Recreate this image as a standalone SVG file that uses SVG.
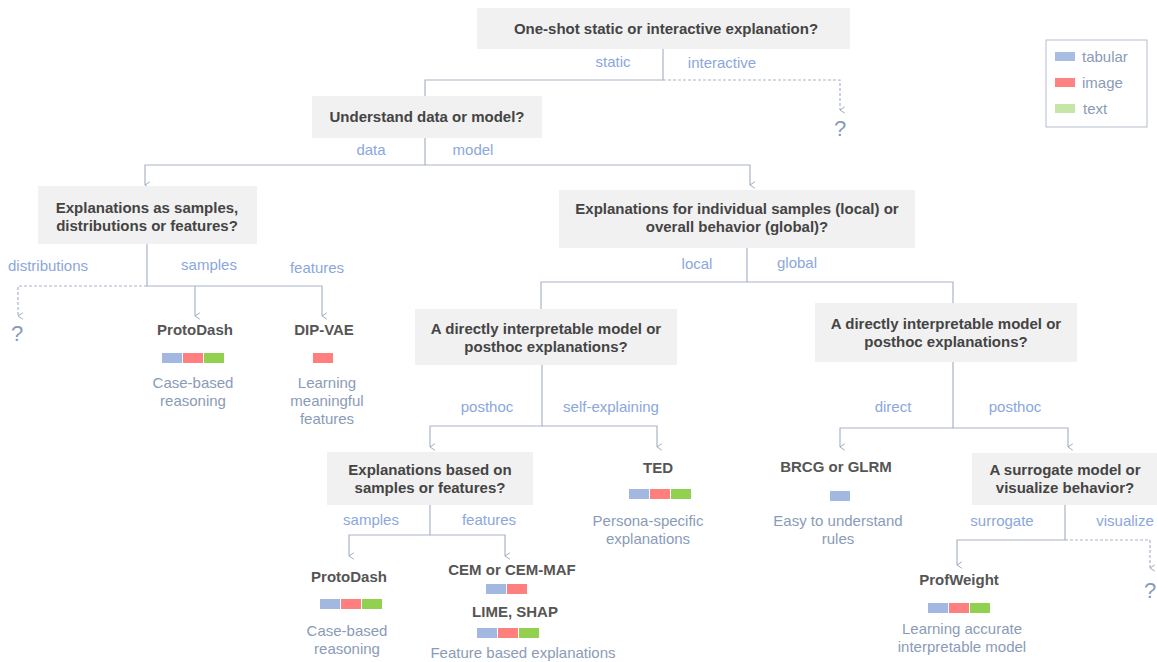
<svg xmlns="http://www.w3.org/2000/svg" width="1157" height="662" viewBox="0 0 1157 662">
<defs>
<marker id="arr" viewBox="0 0 10 10" refX="5" refY="9" markerWidth="8" markerHeight="8" orient="auto-start-reverse" markerUnits="userSpaceOnUse">
<path d="M1,3 L5,9 L9,3" fill="none" stroke="#9aa8c0" stroke-width="1.2"/>
</marker>
<style>
.box{fill:#f1f1f1}
.q{font-family:"Liberation Sans",Arial,sans-serif;font-size:15px;font-weight:bold;fill:#444;text-anchor:middle}
.n{font-family:"Liberation Sans",Arial,sans-serif;font-size:15px;font-weight:bold;fill:#555;text-anchor:middle}
.lbl{font-family:"Liberation Sans",Arial,sans-serif;font-size:15px;fill:#8ba7dc;text-anchor:middle}
.d{font-family:"Liberation Sans",Arial,sans-serif;font-size:15px;fill:#8a9bb8;text-anchor:middle}
.qm{font-family:"Liberation Sans",Arial,sans-serif;font-size:22px;fill:#8a9bb8;text-anchor:middle}
.c{fill:none;stroke:#a9b4c8;stroke-width:1.2}
.dash{fill:none;stroke:#a9b4c8;stroke-width:1.2;stroke-dasharray:3,2}
.tb{fill:#a3b8e0}
.im{fill:#ff7f7f}
.tx{fill:#92d050}
.leg{font-family:"Liberation Sans",Arial,sans-serif;font-size:15px;fill:#8a9bb8}
</style>
</defs>
<rect width="1157" height="662" fill="#fff"/>

<g id="connectors">
<path class="c" d="M663,49 V80 H425 V96"/>
<path class="dash" d="M663,80 H840 V110" marker-end="url(#arr)"/>
<path class="c" d="M425,138 V165 H145 V185" marker-end="url(#arr)"/>
<path class="c" d="M425,165 H750 V185" marker-end="url(#arr)"/>
<path class="c" d="M147,244 V286 H322 V316" marker-end="url(#arr)"/>
<path class="c" d="M195,286 V316" marker-end="url(#arr)"/>
<path class="dash" d="M147,286 H18 V316" marker-end="url(#arr)"/>
<path class="c" d="M747,248 V282 H541 V309"/>
<path class="c" d="M747,282 H953 V303"/>
<path class="c" d="M542,365 V426 H430 V447" marker-end="url(#arr)"/>
<path class="c" d="M542,426 H657 V447" marker-end="url(#arr)"/>
<path class="c" d="M953,362 V428 H840 V447" marker-end="url(#arr)"/>
<path class="c" d="M953,428 H1068 V447" marker-end="url(#arr)"/>
<path class="c" d="M430,505 V535 H349 V556" marker-end="url(#arr)"/>
<path class="c" d="M430,535 H505 V556" marker-end="url(#arr)"/>
<path class="c" d="M1065,505 V540 H957 V565" marker-end="url(#arr)"/>
<path class="dash" d="M1065,540 H1150 V568" marker-end="url(#arr)"/>
</g>

<g id="edge-labels">
<text class="lbl" x="613" y="67">static</text>
<text class="lbl" x="722" y="68">interactive</text>
<text class="lbl" x="371" y="155">data</text>
<text class="lbl" x="473" y="155">model</text>
<text class="lbl" x="48" y="271">distributions</text>
<text class="lbl" x="209" y="270">samples</text>
<text class="lbl" x="317" y="273">features</text>
<text class="lbl" x="697" y="269">local</text>
<text class="lbl" x="797" y="268">global</text>
<text class="lbl" x="487" y="412">posthoc</text>
<text class="lbl" x="611" y="412">self-explaining</text>
<text class="lbl" x="893" y="412">direct</text>
<text class="lbl" x="1015" y="412">posthoc</text>
<text class="lbl" x="371" y="525">samples</text>
<text class="lbl" x="489" y="525">features</text>
<text class="lbl" x="1002" y="526">surrogate</text>
<text class="lbl" x="1125" y="526">visualize</text>
</g>

<g id="q-interactive">
<rect class="box" x="477" y="8" width="373" height="41"/>
<text class="q" x="666" y="34">One-shot static or interactive explanation?</text>
</g>
<g id="unknown-interactive"><text class="qm" x="840" y="136">?</text></g>

<g id="q-data-model">
<rect class="box" x="312" y="96" width="230" height="42"/>
<text class="q" x="427" y="122">Understand data or model?</text>
</g>

<g id="q-samples-dist-feat">
<rect class="box" x="38" y="186" width="219" height="58"/>
<text class="q" x="147" y="213">Explanations as samples,</text>
<text class="q" x="147" y="231">distributions or features?</text>
</g>
<g id="unknown-distributions"><text class="qm" x="17" y="341">?</text></g>

<g id="protodash-data">
<text class="n" x="195" y="335">ProtoDash</text>
<rect class="tb" x="162" y="353" width="20" height="10"/>
<rect class="im" x="183" y="353" width="20" height="10"/>
<rect class="tx" x="204" y="353" width="20" height="10"/>
<text class="d" x="193" y="388">Case-based</text>
<text class="d" x="193" y="406">reasoning</text>
</g>

<g id="dipvae">
<text class="n" x="324" y="335">DIP-VAE</text>
<rect class="im" x="313" y="353" width="20" height="10"/>
<text class="d" x="327" y="388">Learning</text>
<text class="d" x="327" y="406">meaningful</text>
<text class="d" x="327" y="424">features</text>
</g>

<g id="q-local-global">
<rect class="box" x="559" y="190" width="356" height="58"/>
<text class="q" x="737" y="214">Explanations for individual samples (local) or</text>
<text class="q" x="737" y="232">overall behavior (global)?</text>
</g>

<g id="q-direct-posthoc-local">
<rect class="box" x="415" y="309" width="262" height="56"/>
<text class="q" x="546" y="334">A directly interpretable model or</text>
<text class="q" x="546" y="352">posthoc explanations?</text>
</g>

<g id="q-direct-posthoc-global">
<rect class="box" x="815" y="303" width="262" height="59"/>
<text class="q" x="946" y="329">A directly interpretable model or</text>
<text class="q" x="946" y="347">posthoc explanations?</text>
</g>

<g id="q-samples-features">
<rect class="box" x="327" y="452" width="206" height="53"/>
<text class="q" x="430" y="475">Explanations based on</text>
<text class="q" x="430" y="493">samples or features?</text>
</g>

<g id="ted">
<text class="n" x="658" y="473">TED</text>
<rect class="tb" x="629" y="489" width="20" height="10"/>
<rect class="im" x="650" y="489" width="20" height="10"/>
<rect class="tx" x="671" y="489" width="20" height="10"/>
<text class="d" x="648" y="526">Persona-specific</text>
<text class="d" x="648" y="544">explanations</text>
</g>

<g id="brcg">
<text class="n" x="836" y="472">BRCG or GLRM</text>
<rect class="tb" x="830" y="491" width="20" height="10"/>
<text class="d" x="838" y="526">Easy to understand</text>
<text class="d" x="838" y="544">rules</text>
</g>

<g id="q-surrogate-visualize">
<rect class="box" x="972" y="453" width="185" height="52"/>
<text class="q" x="1065" y="475">A surrogate model or</text>
<text class="q" x="1065" y="493">visualize behavior?</text>
</g>
<g id="unknown-visualize"><text class="qm" x="1150" y="598">?</text></g>

<g id="protodash-local">
<text class="n" x="349" y="582">ProtoDash</text>
<rect class="tb" x="320" y="599" width="20" height="10"/>
<rect class="im" x="341" y="599" width="20" height="10"/>
<rect class="tx" x="362" y="599" width="20" height="10"/>
<text class="d" x="347" y="636">Case-based</text>
<text class="d" x="347" y="654">reasoning</text>
</g>

<g id="cem">
<text class="n" x="512" y="575">CEM or CEM-MAF</text>
<rect class="tb" x="486" y="584" width="20" height="10"/>
<rect class="im" x="507" y="584" width="20" height="10"/>
</g>

<g id="lime-shap">
<text class="n" x="515" y="617">LIME, SHAP</text>
<rect class="tb" x="477" y="628" width="20" height="10"/>
<rect class="im" x="498" y="628" width="20" height="10"/>
<rect class="tx" x="519" y="628" width="20" height="10"/>
<text class="d" x="523" y="658">Feature based explanations</text>
</g>

<g id="profweight">
<text class="n" x="959" y="585">ProfWeight</text>
<rect class="tb" x="928" y="603" width="20" height="10"/>
<rect class="im" x="949" y="603" width="20" height="10"/>
<rect class="tx" x="970" y="603" width="20" height="10"/>
<text class="d" x="962" y="634">Learning accurate</text>
<text class="d" x="962" y="652">interpretable model</text>
</g>

<g id="legend">
<rect x="1046" y="40" width="101" height="87" fill="#fff" stroke="#b5bccb" stroke-width="1"/>
<rect x="1055" y="52" width="20" height="9" fill="#a8bde2"/>
<text class="leg" x="1082" y="62">tabular</text>
<rect x="1055" y="78" width="20" height="9" fill="#ff8282"/>
<text class="leg" x="1082" y="88">image</text>
<rect x="1055" y="104" width="20" height="9" fill="#c6e6a8"/>
<text class="leg" x="1083" y="114">text</text>
</g>
</svg>
